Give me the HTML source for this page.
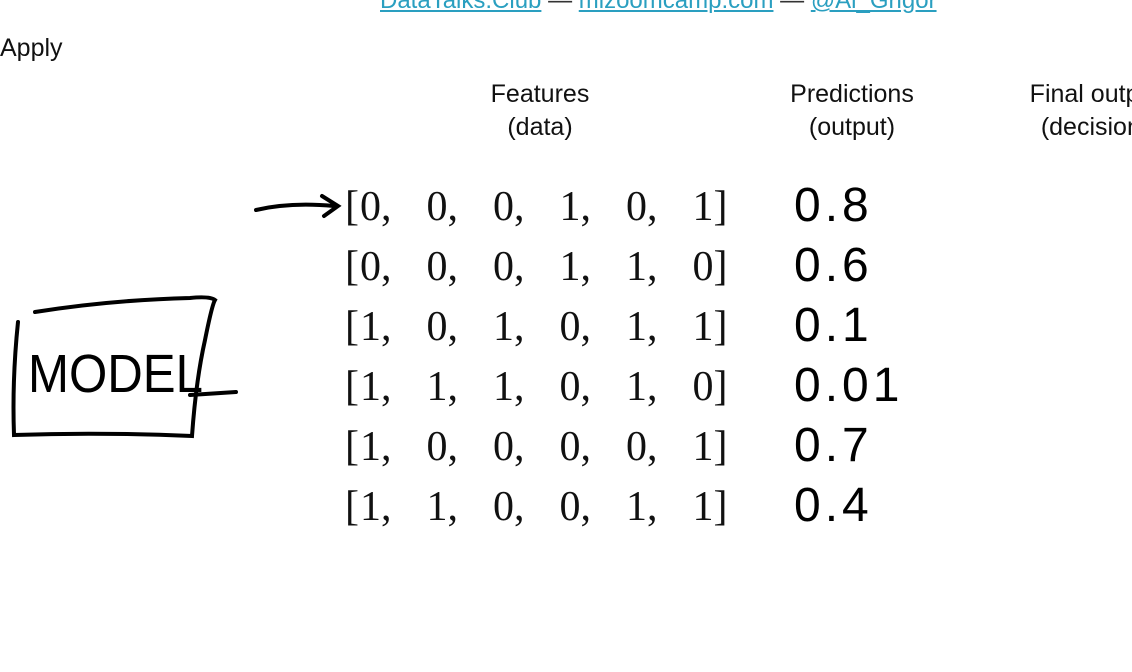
<!DOCTYPE html>
<html><head><meta charset="utf-8"><style>
body{margin:0;width:1132px;height:672px;background:#fff;overflow:hidden;position:relative;font-family:"Liberation Sans",sans-serif}
.a{position:absolute;white-space:nowrap}
.hdr{font-size:25px;color:#111;text-align:center;line-height:33px}
.m{font-family:"Liberation Serif",serif;font-size:42px;color:#111}
.p{font-family:"Liberation Sans",sans-serif;font-size:48px;color:#000;letter-spacing:4px}
.lnk{color:#2a9fc0;text-decoration:underline}
</style></head><body>
<div class="a" style="left:380px;top:-13px;font-size:24px;color:#333">
<span class="lnk">DataTalks.Club</span> — <span class="lnk">mlzoomcamp.com</span> — <span class="lnk">@Al_Grigor</span></div>
<div class="a" style="left:0;top:34px;font-size:25px;color:#111">Apply</div>
<div class="a hdr" style="left:460px;top:78px;width:160px">Features<br>(data)</div>
<div class="a hdr" style="left:772px;top:78px;width:160px">Predictions<br>(output)</div>
<div class="a hdr" style="left:1010px;top:78px;width:170px">Final output<br>(decision)</div>
<svg class="a" style="left:0;top:0" width="1132" height="672">
<path d="M256,210 Q290,202 334,206 M322,196 L338,206 L324,216" fill="none" stroke="#000" stroke-width="4" stroke-linecap="round"/>
<path d="M18,322 Q12,380 14,435 Q100,432 192,436 Q196,380 205,340 Q212,305 215,300 Q210,296 190,298 Q110,300 35,312" fill="none" stroke="#000" stroke-width="4" stroke-linecap="round"/>
<path d="M190,395 L236,392" stroke="#000" stroke-width="4" stroke-linecap="round"/>
<text x="28" y="392" font-family="Liberation Sans,sans-serif" font-size="54" textLength="175" lengthAdjust="spacingAndGlyphs">MODEL</text>
</svg>
<div id="mat"></div>
<div id="pred"></div>
<script>
const rows=[[0,0,0,1,0,1],[0,0,0,1,1,0],[1,0,1,0,1,1],[1,1,1,0,1,0],[1,0,0,0,0,1],[1,1,0,0,1,1]];
const preds=["0.8","0.6","0.1","0.01","0.7","0.4"];
const mat=document.getElementById('mat'),pr=document.getElementById('pred');
rows.forEach((r,i)=>{
 const top=183+i*60;
 const b=document.createElement('div');b.className='a m';b.style.left='345px';b.style.top=top+'px';b.textContent='[';
 
 
 mat.appendChild(b);
 r.forEach((v,j)=>{
  const d=document.createElement('div');d.className='a m';d.style.left=(360+j*66.5)+'px';d.style.top=top+'px';
  d.textContent=v+(j<5?',':']');
  
  
  mat.appendChild(d);
 });
 const p=document.createElement('div');p.className='a p';p.style.left='794px';p.style.top=(178+i*60)+'px';p.textContent=preds[i];
 
 
 pr.appendChild(p);
});
</script>
</body></html>
